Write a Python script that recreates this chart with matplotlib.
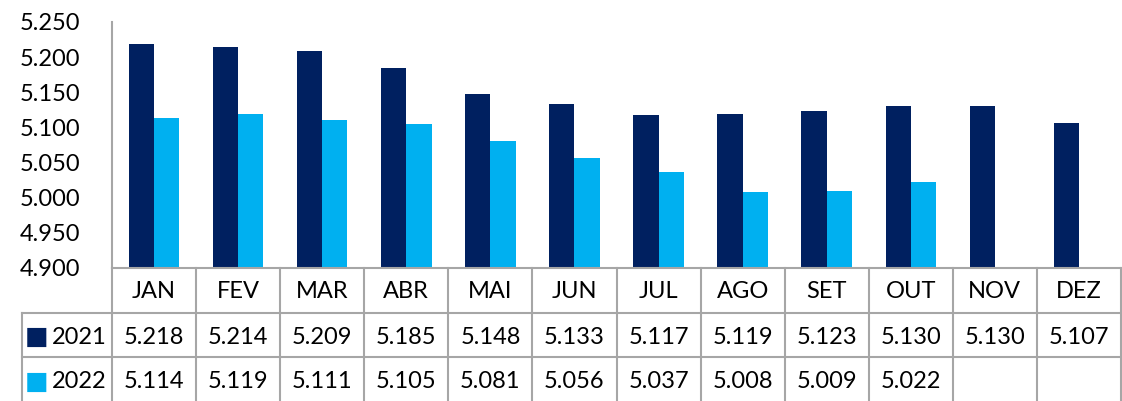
import matplotlib.pyplot as plt
import numpy as np

meses = ['JAN', 'FEV', 'MAR', 'ABR', 'MAI', 'JUN', 'JUL', 'AGO', 'SET', 'OUT', 'NOV', 'DEZ']
v2021 = [5.218, 5.214, 5.209, 5.185, 5.148, 5.133, 5.117, 5.119, 5.123, 5.130, 5.130, 5.107]
v2022 = [5.114, 5.119, 5.111, 5.105, 5.081, 5.056, 5.037, 5.008, 5.009, 5.022]
anos = ['2021', '2022']
cores = ['#002060', '#00b0f0']
yticks = [4.900, 4.950, 5.000, 5.050, 5.100, 5.150, 5.200, 5.250]

plt.rcParams['font.family'] = ['Lato', 'DejaVu Sans']

W, H = 1122, 401
fig = plt.figure(figsize=(W / 100, H / 100), dpi=100)
# axes in pixel coordinates
x0, x1, ytop, ybot = 112, 1121, 22, 268
ax = fig.add_axes([x0 / W, (H - ybot) / H, (x1 - x0) / W, (ybot - ytop) / H])

x = np.arange(len(meses))
w = 0.3
ax.bar(x[:len(v2021)] - w / 2, v2021, w, color=cores[0])
ax.bar(x[:len(v2022)] + w / 2, v2022, w, color=cores[1])
ax.set_xlim(-0.5, 11.5)
ax.set_ylim(4.9, 5.25)
ax.set_yticks(yticks)
ax.set_yticklabels([f'{t:.3f}' for t in yticks])
ax.tick_params(axis='y', length=0, labelsize=17, pad=23)
ax.set_xticks([])
for s in ['top', 'right', 'bottom']:
    ax.spines[s].set_visible(False)
ax.spines['left'].set_color('#a6a6a6')
ax.spines['left'].set_linewidth(1.5)

# data table below the chart
gc = '#a6a6a6'
ax_h = ybot - ytop
def fy(py):
    return -(py - ybot) / ax_h
tr = ax.get_xaxis_transform()
r_hdr, r1, r2, r_end = ybot, 313, 357, 420
leg_left = -0.5 - (x0 - 22) / ((x1 - x0) / 12)
for i in range(13):
    ax.plot([i - 0.5, i - 0.5], [fy(r_hdr), fy(r_end)], color=gc, lw=1.5,
            transform=tr, clip_on=False)
ax.plot([-0.5, 11.5], [0, 0], color=gc, lw=1.5, transform=tr, clip_on=False)
for r in [r1, r2]:
    ax.plot([leg_left, 11.5], [fy(r), fy(r)], color=gc, lw=1.5, transform=tr, clip_on=False)
ax.plot([leg_left, leg_left], [fy(r1), fy(r_end)], color=gc, lw=1.5, transform=tr, clip_on=False)

fs = 17
for i, m in enumerate(meses):
    ax.text(i, fy(292), m, ha='center', va='center', fontsize=fs,
            transform=tr, clip_on=False)
rows = [v2021, v2022]
centers = [337, 382]
for k, vals in enumerate(rows):
    yc = fy(centers[k])
    for i, v in enumerate(vals):
        ax.text(i, yc, f'{v:.3f}', ha='center', va='center', fontsize=fs,
                transform=tr, clip_on=False)
    ax.text(leg_left + 0.17, yc, '\u25a0', color=cores[k], ha='center', va='center',
            fontsize=18, family='DejaVu Sans', transform=tr, clip_on=False)
    ax.text(leg_left + 0.35, yc, anos[k], ha='left', va='center', fontsize=fs,
            transform=tr, clip_on=False)

fig.savefig('out.png', dpi=100)
